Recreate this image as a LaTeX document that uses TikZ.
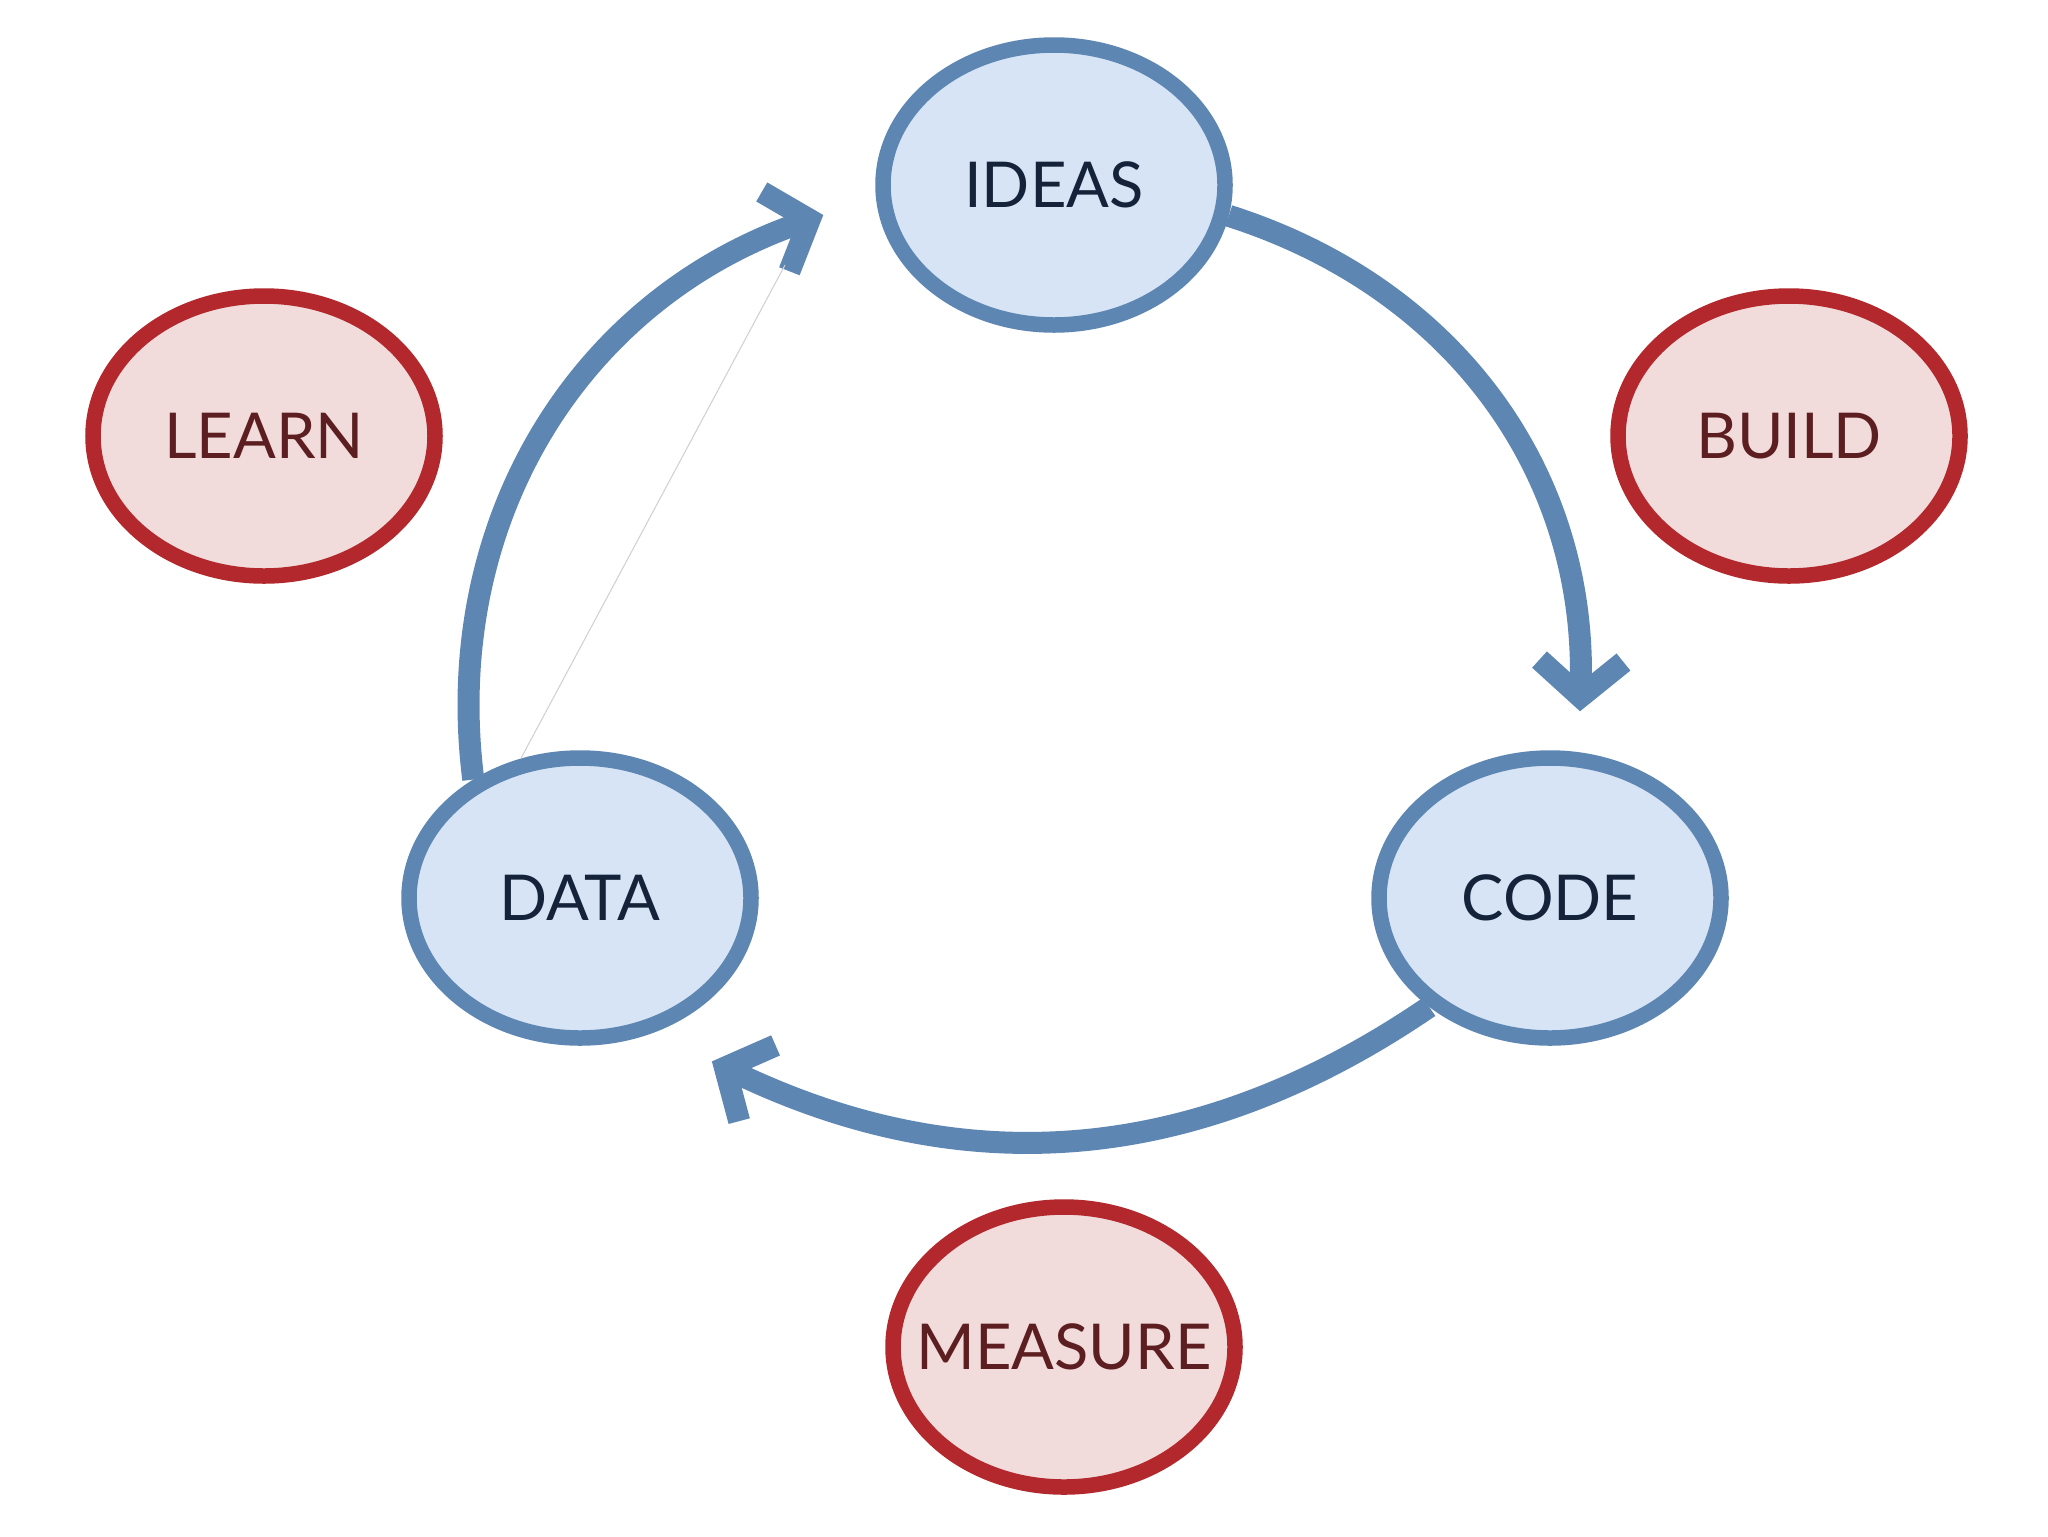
\documentclass[tikz,border=0pt]{standalone}
\usepackage{fontspec}
\setmainfont{Lato}
\usepackage{tikz}
\usetikzlibrary{arrows.meta,shapes.geometric,calc}
\definecolor{cLine}{HTML}{5E86B3}
\definecolor{cFill}{HTML}{D6E4F5}
\definecolor{cText}{HTML}{15233A}
\definecolor{cRed} {HTML}{B2282D}
\definecolor{cPink}{HTML}{F2DCDB}
\definecolor{cWine}{HTML}{5C1E20}
\tikzset{
  stage/.style ={ellipse,draw=cLine,fill=cFill,line width=1.55mm,text=cText,
                 minimum width=34.2mm,minimum height=28mm,inner ysep=0pt,inner xsep=-3mm},
  act/.style   ={stage,draw=cRed,fill=cPink,text=cWine},
  flow/.style  ={draw=cLine,line width=2.2mm,bend left=37,
                 -{Straight Barb[length=3.6mm,width=8.4mm,line width=2.2mm,
                                 line join=miter,line cap=butt]}},
  ghost/.style ={draw=black!18,line width=0.3pt},
}

\begin{document}
\begin{tikzpicture}[font=\fontsize{18pt}{22pt}\selectfont, x=1mm, y=1mm]
\useasboundingbox[fill=white] (0,0) rectangle (204.8,-153.6);

% ---- the loop ------------------------------------------------------------
\node[stage] (ideas) at (105.4,-18.5) {IDEAS};
\node[stage] (code)  at (155.0,-89.8) {CODE};
\node[stage] (data)  at (58.0,-89.8)  {DATA};

% ---- what each turn does -------------------------------------------------
\node[act] (learn)   at (26.4,-43.6)  {LEARN};
\node[act] (build)   at (178.9,-43.6) {BUILD};
\node[act] (measure) at (106.4,-134.7) {MEASURE};

% ---- arrows --------------------------------------------------------------
\draw[flow] (ideas.-10) to ([xshift=3mm,yshift=3.9mm]code.north);
\draw[flow] (code.-138) to[bend left=30] ([xshift=3mm,yshift=-4.2mm]data.-50);
\draw[flow] (data.132) to[bend left=39] ([xshift=-5.2mm,yshift=-3mm]ideas.west);

% faint stray line from DATA up to the arrow tip
\coordinate (stray) at (78.5,-26.5);
\draw[ghost] (data.113) -- (stray);
\end{tikzpicture}
\end{document}
